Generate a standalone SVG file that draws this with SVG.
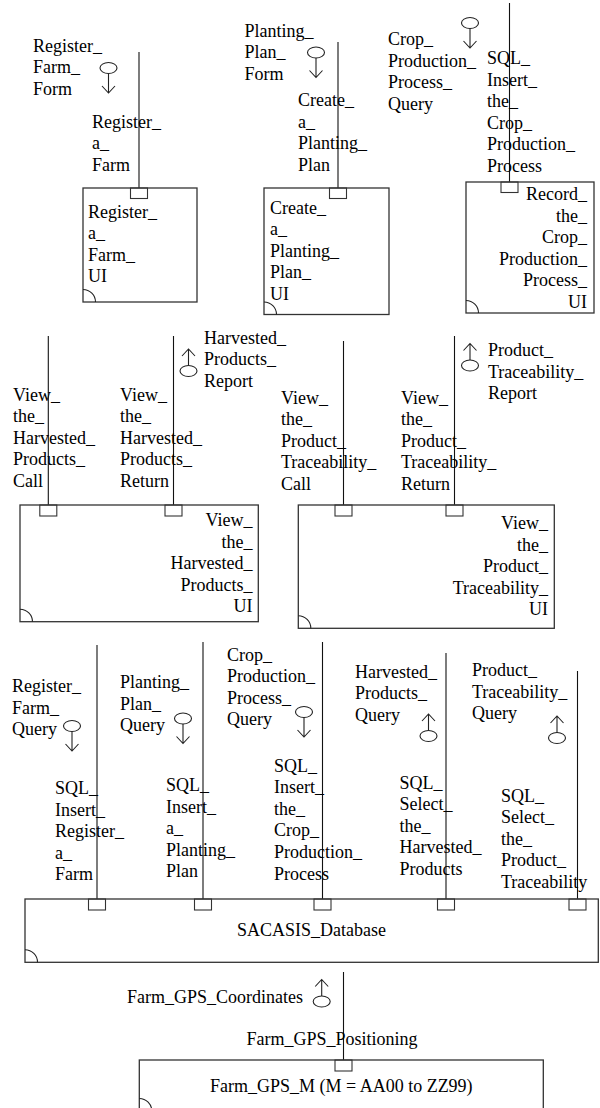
<svg xmlns="http://www.w3.org/2000/svg" xmlns:xlink="http://www.w3.org/1999/xlink" width="600" height="1108" viewBox="0 0 600 1108">
<style>
.t{font-family:"Liberation Serif","Times New Roman",serif;font-size:18px;fill:#000}
.e{text-anchor:end}
.m{text-anchor:middle}
.box{fill:none;stroke:#333;stroke-width:1.3}
.arc{fill:none;stroke:#222;stroke-width:1.1}
.ln{stroke:#111;stroke-width:1.1;fill:none}
.port{fill:#fff;stroke:#333;stroke-width:1.1}
.lol{fill:none;stroke:#222;stroke-width:1.1}
</style>
<defs>
<g id="lolDown" class="lol"><ellipse cx="0" cy="0" rx="8.5" ry="5.5"/><path d="M0,5.5 V25 M-6.5,18 L0,25 L6.5,18"/></g>
<g id="lolUp" class="lol"><ellipse cx="0" cy="22" rx="8.5" ry="5.5"/><path d="M0,16.5 V0 M-6.5,7 L0,0 L6.5,7"/></g>
</defs>
<rect width="600" height="1108" fill="#fff"/>

<g id="connectors">
<line class="ln" x1="139" y1="52" x2="139" y2="188"/>
<line class="ln" x1="338" y1="42" x2="338" y2="188"/>
<line class="ln" x1="509.5" y1="3" x2="509.5" y2="182"/>
<line class="ln" x1="48.3" y1="336" x2="48.3" y2="505"/>
<line class="ln" x1="173.5" y1="336" x2="173.5" y2="505"/>
<line class="ln" x1="343.5" y1="341" x2="343.5" y2="505"/>
<line class="ln" x1="454.5" y1="336" x2="454.5" y2="505"/>
<line class="ln" x1="97" y1="645" x2="97" y2="899"/>
<line class="ln" x1="203" y1="642" x2="203" y2="899"/>
<line class="ln" x1="322.5" y1="642" x2="322.5" y2="899"/>
<line class="ln" x1="446" y1="653" x2="446" y2="899"/>
<line class="ln" x1="577.5" y1="671" x2="577.5" y2="899"/>
<line class="ln" x1="343.5" y1="972" x2="343.5" y2="1060"/>

<rect class="port" x="130.5" y="188" width="17" height="10.5"/>
<rect class="port" x="329.5" y="188" width="17" height="10.5"/>
<rect class="port" x="501" y="182" width="17" height="10.5"/>
<rect class="port" x="39.8" y="505" width="17" height="11"/>
<rect class="port" x="165" y="505" width="17" height="11"/>
<rect class="port" x="335" y="505" width="17" height="11"/>
<rect class="port" x="446" y="505" width="17" height="11"/>
<rect class="port" x="88.5" y="899" width="17" height="11"/>
<rect class="port" x="194.5" y="899" width="17" height="11"/>
<rect class="port" x="314" y="899" width="17" height="11"/>
<rect class="port" x="437.5" y="899" width="17" height="11"/>
<rect class="port" x="569" y="899" width="17" height="11"/>
<rect class="port" x="335" y="1060" width="17" height="11"/>

<use href="#lolDown" x="108.5" y="68"/>
<use href="#lolDown" x="316" y="52.5"/>
<use href="#lolDown" x="470" y="23"/>
<use href="#lolDown" x="72" y="726"/>
<use href="#lolDown" x="183" y="718.5"/>
<use href="#lolDown" x="304" y="712"/>
<use href="#lolUp" x="188.5" y="349"/>
<use href="#lolUp" x="470" y="343.5"/>
<use href="#lolUp" x="428.5" y="714"/>
<use href="#lolUp" x="557" y="716"/>
<use href="#lolUp" x="321.7" y="979.5"/>

<text class="t" x="33" y="51.5"><tspan x="33">Register_</tspan><tspan x="33" dy="21.6">Farm_</tspan><tspan x="33" dy="21.6">Form</tspan></text>
<text class="t" x="92" y="127.5"><tspan x="92">Register_</tspan><tspan x="92" dy="21.6">a_</tspan><tspan x="92" dy="21.6">Farm</tspan></text>
<text class="t" x="244.5" y="36.7"><tspan x="244.5">Planting_</tspan><tspan x="244.5" dy="21.6">Plan_</tspan><tspan x="244.5" dy="21.6">Form</tspan></text>
<text class="t" x="298" y="106"><tspan x="298">Create_</tspan><tspan x="298" dy="21.6">a_</tspan><tspan x="298" dy="21.6">Planting_</tspan><tspan x="298" dy="21.6">Plan</tspan></text>
<text class="t" x="388" y="45"><tspan x="388">Crop_</tspan><tspan x="388" dy="21.6">Production_</tspan><tspan x="388" dy="21.6">Process_</tspan><tspan x="388" dy="21.6">Query</tspan></text>
<text class="t" x="487" y="64"><tspan x="487">SQL_</tspan><tspan x="487" dy="21.6">Insert_</tspan><tspan x="487" dy="21.6">the_</tspan><tspan x="487" dy="21.6">Crop_</tspan><tspan x="487" dy="21.6">Production_</tspan><tspan x="487" dy="21.6">Process</tspan></text>

<text class="t" x="204" y="343.5"><tspan x="204">Harvested_</tspan><tspan x="204" dy="21.6">Products_</tspan><tspan x="204" dy="21.6">Report</tspan></text>
<text class="t" x="13" y="400.5"><tspan x="13">View_</tspan><tspan x="13" dy="21.6">the_</tspan><tspan x="13" dy="21.6">Harvested_</tspan><tspan x="13" dy="21.6">Products_</tspan><tspan x="13" dy="21.6">Call</tspan></text>
<text class="t" x="120" y="400.5"><tspan x="120">View_</tspan><tspan x="120" dy="21.6">the_</tspan><tspan x="120" dy="21.6">Harvested_</tspan><tspan x="120" dy="21.6">Products_</tspan><tspan x="120" dy="21.6">Return</tspan></text>
<text class="t" x="488" y="356"><tspan x="488">Product_</tspan><tspan x="488" dy="21.6">Traceability_</tspan><tspan x="488" dy="21.6">Report</tspan></text>
<text class="t" x="281" y="403.5"><tspan x="281">View_</tspan><tspan x="281" dy="21.6">the_</tspan><tspan x="281" dy="21.6">Product_</tspan><tspan x="281" dy="21.6">Traceability_</tspan><tspan x="281" dy="21.6">Call</tspan></text>
<text class="t" x="401" y="403.5"><tspan x="401">View_</tspan><tspan x="401" dy="21.6">the_</tspan><tspan x="401" dy="21.6">Product_</tspan><tspan x="401" dy="21.6">Traceability_</tspan><tspan x="401" dy="21.6">Return</tspan></text>

<text class="t" x="12" y="692"><tspan x="12">Register_</tspan><tspan x="12" dy="21.6">Farm_</tspan><tspan x="12" dy="21.6">Query</tspan></text>
<text class="t" x="120" y="688"><tspan x="120">Planting_</tspan><tspan x="120" dy="21.6">Plan_</tspan><tspan x="120" dy="21.6">Query</tspan></text>
<text class="t" x="227" y="660.5"><tspan x="227">Crop_</tspan><tspan x="227" dy="21.6">Production_</tspan><tspan x="227" dy="21.6">Process_</tspan><tspan x="227" dy="21.6">Query</tspan></text>
<text class="t" x="355" y="677.5"><tspan x="355">Harvested_</tspan><tspan x="355" dy="21.6">Products_</tspan><tspan x="355" dy="21.6">Query</tspan></text>
<text class="t" x="472" y="676"><tspan x="472">Product_</tspan><tspan x="472" dy="21.6">Traceability_</tspan><tspan x="472" dy="21.6">Query</tspan></text>
<text class="t" x="55" y="794"><tspan x="55">SQL_</tspan><tspan x="55" dy="21.6">Insert_</tspan><tspan x="55" dy="21.6">Register_</tspan><tspan x="55" dy="21.6">a_</tspan><tspan x="55" dy="21.6">Farm</tspan></text>
<text class="t" x="166" y="791"><tspan x="166">SQL_</tspan><tspan x="166" dy="21.6">Insert_</tspan><tspan x="166" dy="21.6">a_</tspan><tspan x="166" dy="21.6">Planting_</tspan><tspan x="166" dy="21.6">Plan</tspan></text>
<text class="t" x="274" y="771.5"><tspan x="274">SQL_</tspan><tspan x="274" dy="21.6">Insert_</tspan><tspan x="274" dy="21.6">the_</tspan><tspan x="274" dy="21.6">Crop_</tspan><tspan x="274" dy="21.6">Production_</tspan><tspan x="274" dy="21.6">Process</tspan></text>
<text class="t" x="399.5" y="788.5"><tspan x="399.5">SQL_</tspan><tspan x="399.5" dy="21.6">Select_</tspan><tspan x="399.5" dy="21.6">the_</tspan><tspan x="399.5" dy="21.6">Harvested_</tspan><tspan x="399.5" dy="21.6">Products</tspan></text>
<text class="t" x="501" y="801.5"><tspan x="501">SQL_</tspan><tspan x="501" dy="21.6">Select_</tspan><tspan x="501" dy="21.6">the_</tspan><tspan x="501" dy="21.6">Product_</tspan><tspan x="501" dy="21.6">Traceability</tspan></text>
<text class="t" x="127" y="1003">Farm_GPS_Coordinates</text>
<text class="t" x="246.5" y="1045">Farm_GPS_Positioning</text>
</g>

<g id="register_a_farm_ui">
<rect class="box" x="83" y="188" width="114" height="114"/>
<path class="arc" d="M83,289.5 A12.5,12.5 0 0 1 95.5,302"/>
<text class="t" x="88" y="217.5"><tspan x="88">Register_</tspan><tspan x="88" dy="21.6">a_</tspan><tspan x="88" dy="21.6">Farm_</tspan><tspan x="88" dy="21.6">UI</tspan></text>
</g>

<g id="create_a_planting_plan_ui">
<rect class="box" x="264" y="188" width="125" height="126.5"/>
<path class="arc" d="M264,302 A12.5,12.5 0 0 1 276.5,314.5"/>
<text class="t" x="270" y="213.5"><tspan x="270">Create_</tspan><tspan x="270" dy="21.6">a_</tspan><tspan x="270" dy="21.6">Planting_</tspan><tspan x="270" dy="21.6">Plan_</tspan><tspan x="270" dy="21.6">UI</tspan></text>
</g>

<g id="record_crop_production_ui">
<rect class="box" x="466" y="182" width="128" height="131"/>
<path class="arc" d="M466,300.5 A12.5,12.5 0 0 1 478.5,313"/>
<text class="t e" x="587" y="200"><tspan x="587">Record_</tspan><tspan x="587" dy="21.6">the_</tspan><tspan x="587" dy="21.6">Crop_</tspan><tspan x="587" dy="21.6">Production_</tspan><tspan x="587" dy="21.6">Process_</tspan><tspan x="587" dy="21.6">UI</tspan></text>
</g>

<g id="view_harvested_products_ui">
<rect class="box" x="20" y="505" width="238.3" height="116.7"/>
<path class="arc" d="M20,609.2 A12.5,12.5 0 0 1 32.5,621.7"/>
<text class="t e" x="252.5" y="526"><tspan x="252.5">View_</tspan><tspan x="252.5" dy="21.6">the_</tspan><tspan x="252.5" dy="21.6">Harvested_</tspan><tspan x="252.5" dy="21.6">Products_</tspan><tspan x="252.5" dy="21.6">UI</tspan></text>
</g>

<g id="view_product_traceability_ui">
<rect class="box" x="298.3" y="505" width="256" height="123.3"/>
<path class="arc" d="M298.3,615.8 A12.5,12.5 0 0 1 310.8,628.3"/>
<text class="t e" x="548" y="529"><tspan x="548">View_</tspan><tspan x="548" dy="21.6">the_</tspan><tspan x="548" dy="21.6">Product_</tspan><tspan x="548" dy="21.6">Traceability_</tspan><tspan x="548" dy="21.6">UI</tspan></text>
</g>

<g id="sacasis_database">
<rect class="box" x="25" y="899" width="573.3" height="63.3"/>
<path class="arc" d="M25,949.8 A12.5,12.5 0 0 1 37.5,962.3"/>
<text class="t m" x="311.5" y="936">SACASIS_Database</text>
</g>

<g id="farm_gps_m">
<rect class="box" x="139.3" y="1060" width="404" height="51"/>
<path class="arc" d="M139.3,1098.5 A12.5,12.5 0 0 1 151.8,1111"/>
<text class="t m" x="341.3" y="1092">Farm_GPS_M (M = AA00 to ZZ99)</text>
</g>
</svg>
